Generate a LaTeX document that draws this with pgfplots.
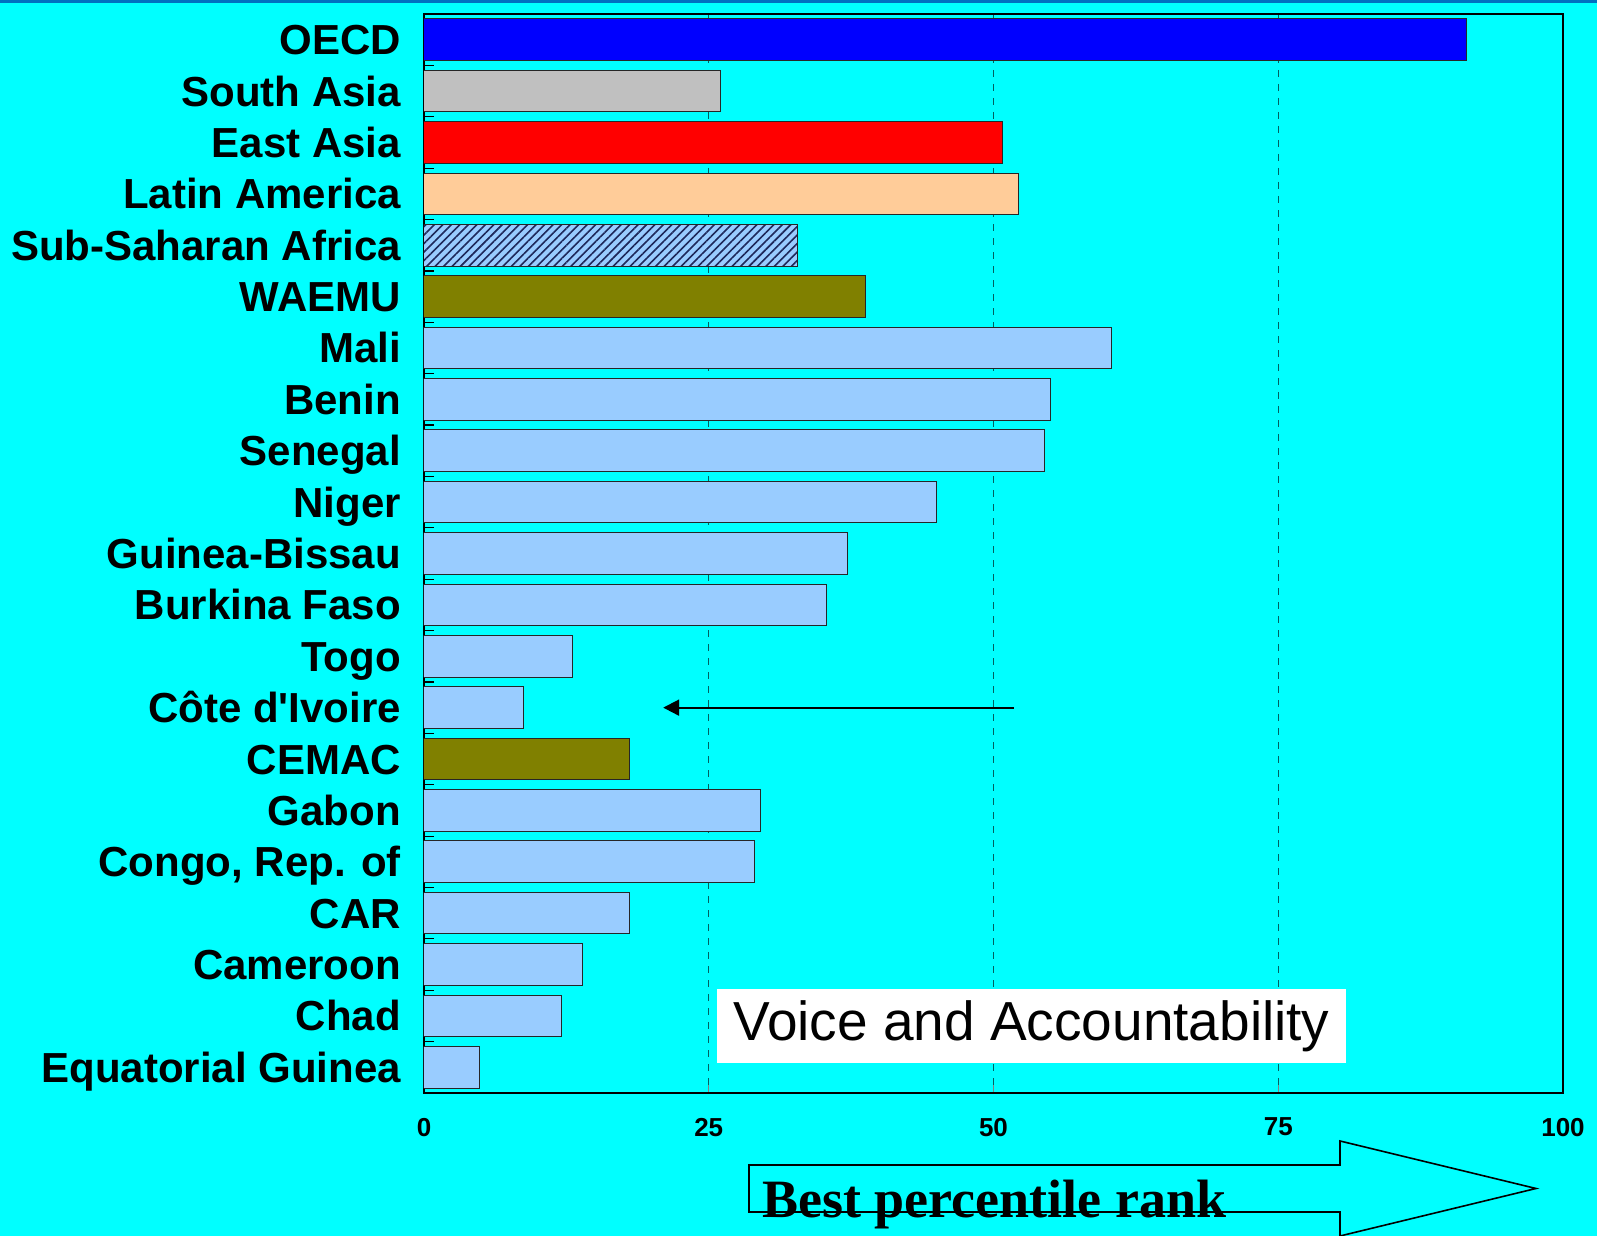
\documentclass[border=0pt]{standalone}
\usepackage{pgfplots}
\pgfplotsset{compat=1.18}
\usepackage{fontspec}
\setmainfont{Liberation Sans}
\newfontfamily\serifbold{Liberation Serif}
\usetikzlibrary{patterns.meta,arrows.meta}

\definecolor{bg}{RGB}{0,255,255}
\definecolor{topband}{RGB}{0,112,192}
\definecolor{gridc}{RGB}{0,96,96}
\definecolor{oecd}{RGB}{0,0,255}
\definecolor{sasia}{RGB}{192,192,192}
\definecolor{easia}{RGB}{255,0,0}
\definecolor{latam}{RGB}{255,204,153}
\definecolor{ltblue}{RGB}{153,204,255}
\definecolor{hatch}{RGB}{30,40,90}
\definecolor{olive}{RGB}{128,128,0}

\begin{document}
\begin{tikzpicture}
\useasboundingbox (0,0) rectangle (798.5pt,618pt);
\fill[bg] (0,0) rectangle (798.5pt,618pt);
\fill[topband] (0,616.5pt) rectangle (798.5pt,618pt);
\begin{axis}[
    at={(212pt,71.5pt)}, anchor=south west,
    scale only axis, width=569.5pt, height=539.5pt,
    xbar, bar shift=0pt, bar width=0.81,
    xmin=0, xmax=100, ymin=-0.5, ymax=20.5, y dir=reverse,
    xtick={0,25,50,75,100},
    ytick={0,...,20},
    yticklabels={OECD,South Asia,East Asia,Latin America,Sub-Saharan Africa,WAEMU,
      Mali,Benin,Senegal,Niger,Guinea-Bissau,Burkina Faso,Togo,C\^ote d\textquotesingle Ivoire,
      CEMAC,Gabon,{Congo, Rep. of},CAR,Cameroon,Chad,Equatorial Guinea},
    minor ytick={-0.5,0.5,...,20.5},
    tick pos=left,
    major tick length=4pt, minor tick length=5pt,
    ytick style={draw=none},
    minor y tick style={draw=black, line width=0.6pt, xshift=5pt},
    xtick style={line width=0.5pt},
    xmajorgrids,
    major grid style={gridc, line width=0.6pt, dash pattern=on 3.5pt off 3.5pt},
    axis line style={line width=0.75pt},
    yticklabel style={font=\fontsize{21}{25}\selectfont\bfseries, xshift=-4pt,
      anchor=east, text height=15pt, text depth=0pt},
    xticklabel style={font=\fontsize{13}{15}\selectfont\bfseries, yshift=-9pt},
    /pgf/number format/assume math mode=true,
    every axis plot/.append style={draw=black!85, line width=0.5pt},
    ]
\addplot[fill=oecd] coordinates {(91.5,0)};
\addplot[fill=sasia] coordinates {(26.0,1)};
\addplot[fill=easia] coordinates {(50.8,2)};
\addplot[fill=latam] coordinates {(52.2,3)};
\addplot[fill=ltblue, postaction={pattern={Lines[angle=45,distance=3pt,line width=0.8pt]}, pattern color=hatch}] coordinates {(32.8,4)};
\addplot[fill=olive] coordinates {(38.8,5) (18.0,14)};
\addplot[fill=ltblue] coordinates {
  (60.4,6) (55.0,7) (54.5,8) (45.0,9) (37.2,10) (35.3,11) (13.0,12) (8.7,13)
  (29.5,15) (29.0,16) (18.0,17) (13.9,18) (12.1,19) (4.9,20)};
\draw[line width=1pt, -{Triangle[length=8pt,width=8pt]}] (axis cs:51.8,13) -- (axis cs:21,13);
\end{axis}
\node[fill=white, inner sep=0pt, minimum width=314.5pt, minimum height=37pt,
  font=\fontsize{27.5}{30}\selectfont] at (515.75pt,105pt) {Voice and Accountability};
\draw[line width=0.8pt, fill=bg] (374.5pt,12pt) -- (374.5pt,35.5pt) -- (670pt,35.5pt)
  -- (670pt,47.5pt) -- (768pt,23.75pt) -- (670pt,0pt) -- (670pt,12pt) -- cycle;
\node[anchor=base west, inner sep=0pt, font=\serifbold\bfseries\fontsize{27}{30}\selectfont]
  at (381pt,9pt) {Best percentile rank};
\end{tikzpicture}
\end{document}
